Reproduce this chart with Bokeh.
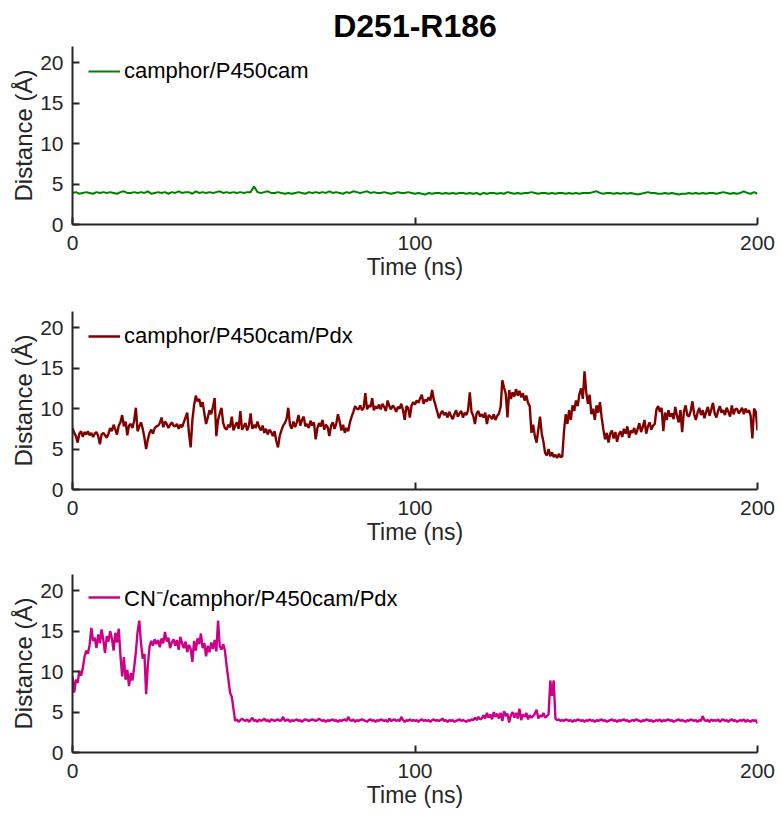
import numpy as np
from bokeh.plotting import figure
from bokeh.layouts import column
from bokeh.models import FixedTicker, Range1d
from bokeh.embed import file_html
from bokeh.resources import INLINE

TITLE = "D251-R186"
X_LABEL = "Time (ns)"
Y_LABEL = "Distance (Å)"
LABELS = ["camphor/P450cam", "camphor/P450cam/Pdx", "CN\u207b/camphor/P450cam/Pdx"]
COLORS = ["#008000", "#800000", "#CC0088"]
X_TICKS = [0, 100, 200]
Y_TICKS = [0, 5, 10, 15, 20]

# time axes (ns)
t1 = list(range(0, 201))
t2 = [i * 0.5 for i in range(401)]

s1 = [
    3.9, 4.0, 3.8, 3.9, 4.0, 3.9, 3.8, 4.0, 3.9, 4.0,
    3.9, 4.0, 3.9, 3.8, 4.0, 4.1, 3.9, 3.9, 4.0, 3.9,
    4.0, 3.9, 4.1, 3.8, 3.9, 4.0, 3.9, 4.0, 3.8, 4.0,
    3.9, 4.1, 3.9, 4.0, 4.0, 3.8, 4.1, 3.9, 4.0, 3.9,
    4.0, 3.9, 4.0, 4.1, 3.9, 4.0, 3.9, 4.0, 3.9, 4.0,
    3.9, 4.0, 4.0, 4.7, 4.0, 3.9, 4.0, 4.1, 3.9, 3.9,
    4.0, 3.9, 3.8, 3.9, 3.8, 3.9, 4.0, 3.9, 3.8, 4.0,
    3.9, 4.0, 3.9, 4.0, 3.9, 4.1, 3.9, 4.0, 3.9, 3.8,
    4.0, 3.9, 4.1, 4.0, 3.9, 4.0, 4.1, 3.9, 4.0, 3.9,
    3.9, 4.0, 3.9, 3.8, 3.9, 4.0, 3.9, 3.9, 4.0, 3.9,
    3.8, 3.9, 3.8, 3.7, 3.9, 3.8, 3.9, 3.9, 3.8, 3.9,
    3.8, 3.9, 3.8, 3.9, 3.9, 3.8, 3.9, 3.8, 3.9, 3.7,
    3.9, 3.8, 3.9, 3.9, 3.8, 3.9, 3.8, 4.0, 3.9, 3.8,
    3.9, 3.8, 3.9, 3.9, 4.0, 3.9, 3.8, 3.9, 3.9, 3.8,
    3.9, 3.8, 3.9, 3.9, 3.8, 3.9, 3.8, 3.9, 3.8, 3.9,
    3.9, 3.9, 4.0, 4.1, 3.9, 3.8, 3.9, 3.9, 3.8, 3.9,
    3.8, 3.9, 3.8, 3.9, 3.8, 3.7, 3.8, 3.9, 4.0, 3.9,
    3.9, 3.8, 3.8, 3.9, 3.8, 3.9, 3.8, 3.7, 3.8, 3.8,
    3.9, 3.8, 3.9, 3.8, 3.9, 3.8, 3.9, 3.9, 3.8, 3.9,
    4.0, 3.9, 3.8, 3.9, 3.8, 3.9, 4.1, 3.9, 3.8, 4.0,
    3.8,
]

s2 = [
    7.6, 7.0, 6.6, 5.8, 6.9, 7.2, 6.5, 7.1, 6.8, 7.2,
    6.7, 7.0, 6.5, 6.9, 7.1, 6.6, 5.6, 6.8, 7.0, 6.7,
    6.4, 6.9, 7.6, 7.2, 8.0, 7.4, 6.8, 7.9, 8.3, 9.2,
    7.8, 8.4, 6.7, 7.9, 8.1, 7.6, 8.5, 10.1, 7.2, 7.8,
    8.3, 7.5, 6.4, 5.0, 6.2, 7.0, 7.4, 6.9, 7.6, 7.8,
    7.9, 8.2, 8.9, 7.7, 8.4, 8.1, 7.6, 8.0, 8.3, 7.9,
    7.8, 8.1, 7.5, 8.0, 7.7, 8.3, 8.9, 9.5, 7.0, 5.2,
    8.6, 10.4, 11.6, 10.9, 11.2, 10.2, 10.8, 9.4, 8.1, 8.9,
    9.8, 9.3, 10.2, 11.3, 6.6, 8.6, 9.4, 10.1, 8.2, 7.6,
    7.4, 8.0, 7.7, 9.0, 7.3, 7.9, 8.3, 7.5, 9.7, 7.4,
    7.8, 8.2, 7.3, 7.9, 9.4, 7.5, 8.0, 7.6, 8.4, 7.7,
    7.3, 7.9, 7.0, 7.5, 6.8, 7.4, 7.1, 6.6, 7.2, 6.0,
    5.2, 6.6, 7.3, 7.9, 8.2, 8.7, 10.1, 8.0, 7.5, 8.4,
    7.7, 8.3, 9.2, 7.9, 8.6, 9.0, 7.8, 8.1, 7.6, 8.5,
    7.9, 8.3, 6.2, 7.6, 8.2, 7.8, 8.6, 7.4, 8.0, 7.7,
    6.6, 7.9, 8.3, 7.5, 8.1, 9.3, 8.4, 7.3, 8.0, 7.0,
    7.6, 7.2, 8.3, 9.0, 9.6, 10.3, 10.0, 9.9, 10.4, 9.8,
    10.1, 11.9, 9.9, 10.4, 10.2, 11.3, 9.8, 10.3, 10.0, 10.5,
    9.9, 10.6, 10.2, 9.7, 11.0, 10.3, 9.9, 10.4, 10.1, 9.6,
    10.2, 10.0, 10.6, 9.8, 8.6, 10.3, 10.1, 8.9, 10.4, 10.8,
    10.5, 11.0, 10.7, 11.3, 11.7, 10.6, 11.1, 10.9, 11.4, 11.0,
    12.3, 11.1, 10.4, 9.6, 8.8, 9.4, 9.7, 9.2, 9.5, 8.9,
    9.6, 9.1, 8.7, 9.3, 9.8, 9.0, 9.4, 9.7, 8.9, 9.5,
    9.2, 9.8, 12.0, 9.6, 9.1, 8.1, 9.4, 9.7, 9.0, 9.3,
    8.9, 9.5, 8.1, 9.2, 9.0, 8.7, 9.3, 8.6, 9.1, 9.4,
    10.2, 13.5, 12.6, 11.8, 8.9, 12.3, 11.2, 12.0, 11.5, 12.4,
    11.6, 12.2, 11.4, 11.9, 11.0, 11.6, 10.7, 10.3, 7.0, 8.0,
    6.6, 5.8, 7.4, 9.0, 6.9, 5.9, 4.5, 4.2, 5.0, 4.1,
    4.6, 4.0, 4.3, 3.9, 4.4, 4.0, 4.1, 7.2, 9.3, 8.1,
    9.8, 8.6, 10.4, 9.7, 11.0, 10.3, 11.8, 12.5, 11.2, 14.6,
    12.0, 10.6, 11.7, 9.3, 10.0, 8.6, 10.4, 9.5, 10.8, 8.9,
    7.4, 6.2, 7.0, 5.8, 6.9, 7.3, 6.3, 7.1, 5.9, 6.8,
    7.2, 6.5, 7.5, 6.9, 7.8, 6.4, 7.3, 7.0, 7.6, 6.8,
    7.5, 8.2, 7.1, 7.7, 8.6, 6.9, 7.8, 8.3, 7.4, 7.9,
    8.1, 9.9, 10.3, 9.6, 10.1, 7.2, 9.5, 8.6, 9.8, 9.0,
    9.4, 8.7, 10.2, 9.1, 8.3, 9.8, 7.1, 9.6, 10.4, 9.2,
    9.0, 9.7, 10.9, 9.3, 8.6, 9.5, 10.1, 9.2, 9.8, 8.8,
    9.6, 10.2, 9.1, 9.9, 10.7, 9.4, 8.9, 9.7, 10.3, 9.5,
    9.8, 9.2, 10.1, 9.6, 9.0, 10.4, 9.3, 9.9, 10.0, 9.4,
    9.7, 10.1, 9.3, 10.0, 9.5, 9.8, 9.1, 6.3, 10.0, 9.6,
    7.3,
]

s3 = [
    9.4, 7.4, 9.0, 8.6, 10.1, 9.5, 10.4, 11.8, 12.6, 12.2,
    13.3, 15.4, 13.8, 14.2, 12.9, 14.6, 13.5, 15.2, 13.9, 12.3,
    14.4, 13.7, 15.0, 14.1, 12.6, 14.8, 13.6, 15.3, 12.0, 9.4,
    11.8, 9.0, 10.2, 8.2, 9.8, 8.9, 10.5, 12.4, 14.9, 16.3,
    13.5, 11.6, 12.2, 7.2, 10.8, 13.1, 13.8, 13.2, 14.0, 13.4,
    13.9, 13.0, 14.1, 13.5, 14.9, 13.7, 14.2, 12.9, 13.6, 14.0,
    13.2, 13.9, 12.7, 14.3, 13.5, 12.9, 13.7, 12.4, 13.3, 12.8,
    11.2, 13.8, 12.6, 14.1, 13.4, 14.7, 12.9, 13.5, 11.9, 13.2,
    12.4, 13.6, 12.8, 13.9, 12.5, 16.3, 13.1, 12.7, 13.4, 12.6,
    10.7, 9.1, 7.4, 6.9, 5.4, 3.9, 4.1, 3.8, 4.0, 4.2,
    4.0, 3.9, 4.1, 3.8, 4.0, 4.3, 3.9, 4.0, 3.8, 4.1,
    3.9, 4.0, 4.2, 3.9, 4.0, 3.8, 4.1, 4.0, 3.9, 4.0,
    4.1, 3.9, 4.0, 4.4, 3.9, 4.0, 4.1, 3.8, 4.0, 3.9,
    4.0, 4.1, 3.9, 4.0, 3.8, 4.0, 4.1, 4.0, 3.9, 4.0,
    4.1, 4.0, 3.9, 4.0, 4.2, 4.0, 3.9, 4.0, 3.8, 4.0,
    3.9, 4.0, 4.1, 3.9, 4.0, 3.8, 4.0, 3.9, 4.0, 4.1,
    3.9, 4.4, 4.0, 3.9, 4.1, 3.8, 4.0, 3.9, 4.0, 4.1,
    4.0, 3.9, 3.8, 4.0, 4.1, 3.9, 4.0, 3.8, 4.0, 3.9,
    4.1, 4.0, 3.9, 4.0, 3.8, 4.2, 3.9, 4.0, 4.1, 3.9,
    4.0, 3.9, 4.4, 4.0, 3.8, 4.0, 3.9, 4.1, 3.9, 4.0,
    3.9, 4.0, 3.8, 4.0, 4.1, 3.9, 4.0, 3.9, 4.0, 3.8,
    4.0, 4.1, 3.9, 4.0, 3.9, 4.0, 4.2, 3.9, 4.0, 3.8,
    4.0, 3.9, 4.0, 3.8, 3.9, 4.0, 4.1, 3.9, 4.0, 3.9,
    3.8, 4.0, 3.9, 4.1, 4.0, 4.3, 4.0, 4.4, 4.1, 4.2,
    4.6, 4.2, 4.9, 4.3, 4.7, 4.1, 5.0, 4.4, 4.8, 4.2,
    4.9, 3.9, 5.1, 4.5, 4.8, 3.7, 4.6, 5.0, 4.3, 4.9,
    4.2, 5.4, 4.0, 4.7, 4.4, 4.9, 4.1, 4.6, 4.3, 4.5,
    4.8, 5.3, 4.2, 4.6, 4.4, 4.9, 4.3, 4.5, 4.7, 8.9,
    7.0, 8.9, 4.2, 4.0, 4.1, 3.9, 4.0, 3.9, 4.1, 4.0,
    3.9, 4.0, 3.8, 4.0, 3.9, 4.1, 4.0, 3.9, 4.0, 3.8,
    4.0, 3.9, 4.1, 3.9, 4.0, 3.8, 4.0, 3.9, 4.0, 4.1,
    3.9, 4.0, 3.8, 3.9, 4.0, 4.1, 3.9, 4.0, 3.8, 4.0,
    3.9, 4.0, 4.1, 3.9, 4.0, 3.8, 3.9, 4.0, 3.9, 4.1,
    4.0, 3.9, 3.8, 4.0, 3.9, 4.1, 4.0, 3.9, 4.0, 3.8,
    3.9, 4.0, 3.9, 4.1, 3.8, 4.0, 3.9, 4.0, 4.1, 3.9,
    4.0, 3.8, 3.9, 4.0, 4.1, 3.9, 4.0, 3.9, 3.8, 4.0,
    3.9, 4.1, 4.0, 3.9, 4.0, 3.8, 4.0, 3.9, 4.5, 4.0,
    3.9, 4.0, 3.8, 4.1, 3.9, 4.0, 3.9, 4.1, 3.8, 4.0,
    4.1, 3.9, 4.0, 3.8, 4.0, 4.1, 3.9, 4.0, 3.8, 3.9,
    4.0, 3.9, 4.1, 3.8, 4.0, 3.9, 3.8, 4.0, 3.9, 4.0,
    3.6,
]

FONT = "Liberation Sans"
AX_COLOR = "#262626"

series = [(t1, s1, 2.0), (t2, s2, 2.4), (t2, s3, 2.4)]
heights = [290, 265, 259]
tops = [46, 21, 19]
bottoms = [66, 66, 62]

figs = []
for i, ((tx, sy, lw), h, tp, bt) in enumerate(zip(series, heights, tops, bottoms)):
    p = figure(width=781, height=h, output_backend="svg", toolbar_location=None,
               min_border_left=72, min_border_right=24, min_border_top=tp,
               min_border_bottom=bt,
               x_range=Range1d(0, 200), y_range=Range1d(0, 22))
    p.line(tx, sy, line_color=COLORS[i], line_width=lw, legend_label=LABELS[i])
    p.outline_line_color = None
    p.xgrid.visible = False
    p.ygrid.visible = False
    p.background_fill_color = "white"
    p.border_fill_color = "white"
    for ax in (p.xaxis[0], p.yaxis[0]):
        ax.axis_line_color = AX_COLOR
        ax.axis_line_width = 2
        ax.major_tick_line_color = AX_COLOR
        ax.major_tick_line_width = 2
        ax.major_tick_in = 7
        ax.major_tick_out = 0
        ax.minor_tick_line_color = None
        ax.major_label_text_font = FONT
        ax.major_label_text_font_size = "21px"
        ax.major_label_text_color = AX_COLOR
        ax.axis_label_text_font = FONT
        ax.axis_label_text_font_style = "normal"
        ax.axis_label_text_color = AX_COLOR
    p.xaxis.major_label_standoff = 11
    p.xaxis.axis_label_standoff = 1
    p.xaxis.axis_label_text_font_size = "23px"
    p.yaxis.major_label_standoff = 9
    p.yaxis.axis_label_standoff = 0
    p.yaxis.axis_label_text_font_size = "24px"
    p.xaxis.ticker = FixedTicker(ticks=X_TICKS)
    p.yaxis.ticker = FixedTicker(ticks=Y_TICKS)
    p.xaxis.axis_label = X_LABEL
    p.yaxis.axis_label = Y_LABEL
    lg = p.legend[0]
    lg.location = (16, 140)
    lg.border_line_color = None
    lg.background_fill_alpha = 0
    lg.label_text_font = FONT
    lg.label_text_font_size = "22px"
    lg.label_text_color = "black"
    lg.glyph_width = 32
    lg.glyph_height = 20
    lg.label_standoff = 4
    lg.margin = 0
    lg.padding = 0
    lg.spacing = 0
    if i == 0:
        p.title.text = TITLE
        p.title.align = "center"
        p.title.text_font = FONT
        p.title.text_font_size = "32px"
        p.title.text_font_style = "bold"
        p.title.text_color = "black"
        p.title.standoff = 5
    figs.append(p)

layout = column(*figs, spacing=0)
open("out.html", "w").write(file_html(layout, INLINE))
